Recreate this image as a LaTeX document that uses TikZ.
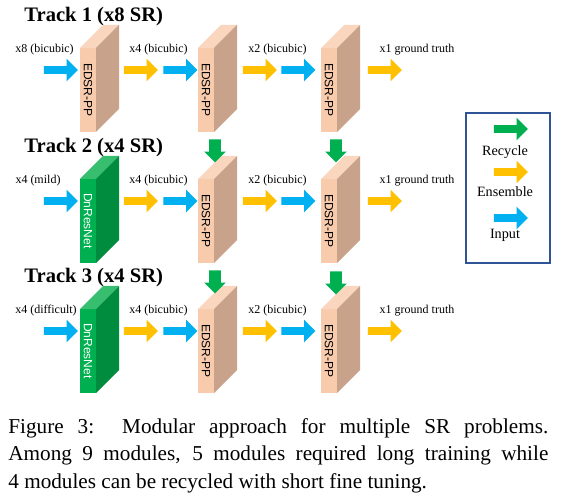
\documentclass[tikz,border=0pt]{standalone}
\usepackage{fontspec}
\setmainfont{Liberation Serif}
\setsansfont{Liberation Sans}
\usetikzlibrary{shapes.arrows,positioning}

\definecolor{edsrfront}{RGB}{248,203,173}
\definecolor{edsrtop}{RGB}{250,214,190}
\definecolor{edsrside}{RGB}{200,162,138}
\definecolor{dnfront}{RGB}{0,176,80}
\definecolor{dntop}{RGB}{55,190,110}
\definecolor{dnside}{RGB}{0,140,62}
\definecolor{inblue}{RGB}{0,176,240}
\definecolor{ensyellow}{RGB}{255,192,0}
\definecolor{recgreen}{RGB}{0,176,80}
\definecolor{legendblue}{RGB}{47,85,151}

% top and side faces of a slab, from the front face node
\newcommand{\slabsides}[3]{%
  \fill[#2] (#1.north west) -- ++(23,-23) -- ++(16,0) -- (#1.north east) -- cycle;
  \fill[#3] (#1.north east) -- ++(23,-23) -- ++(0,84) -- (#1.south east) -- cycle;}

\tikzset{
  fat/.style={single arrow, single arrow head extend=3.75pt, inner xsep=0pt,
              inner ysep=1.75pt, minimum height=17pt, outer sep=0pt},
  inp/.style={fat, fill=inblue},
  ens/.style={fat, fill=ensyellow},
  legrec/.style={fat, fill=recgreen},
  rec/.style={single arrow, fill=recgreen, single arrow head extend=2.5pt,
              inner xsep=0pt, inner ysep=2.75pt, minimum height=11.5pt, rotate=-90},
  edsr/.style={fill=edsrfront, minimum width=8pt, minimum height=42pt, inner sep=0pt,
               outer sep=0pt, font=\sffamily\fontsize{6}{6}\selectfont},
  dnres/.style={edsr, fill=dnfront, text=white},
  lbl/.style={anchor=base, inner sep=0pt, font=\fontsize{6}{6}\selectfont},
  track/.style={anchor=base west, inner sep=0pt, font=\bfseries\fontsize{10.3}{12}\selectfont},
  legtxt/.style={anchor=base, inner sep=0pt, font=\fontsize{7.1}{8}\selectfont},
}

\begin{document}
\begin{tikzpicture}[x=0.5pt, y=-0.5pt]
          \useasboundingbox (0,0) rectangle (562,502);

          % track 1
          \node[track] (t1) at (24,22)  {Track 1 (x8 SR)};
          \node[edsr] (e11) at (88,90)  {\rotatebox{-90}{EDSR-PP}};
          \node[edsr] (e12) at (206,90) {\rotatebox{-90}{EDSR-PP}};
          \node[edsr] (e13) at (329,90) {\rotatebox{-90}{EDSR-PP}};
          \slabsides{e11}{edsrtop}{edsrside}
          \slabsides{e12}{edsrtop}{edsrside}
          \slabsides{e13}{edsrtop}{edsrside}
          \node[inp] (i11) at (59,70)    {};
          \node[ens] (y11) at (139,70)   {};
          \node[inp] (i12) at (178.5,70) {};
          \node[ens] (y12) at (258,70)   {};
          \node[inp] (i13) at (296.5,70) {};
          \node[ens] (y13) at (383,70)   {};
          \node[lbl] (l11) at (44.5,53) {x8 (bicubic)};
          \node[lbl] (l12) at (158.5,53) {x4 (bicubic)};
          \node[lbl] (l13) at (277.5,53) {x2 (bicubic)};
          \node[lbl] (l14) at (417,53)  {x1 ground truth};

          % track 2
          \node[track] (t2) at (24,153)  {Track 2 (x4 SR)};
          \node[dnres] (d21) at (88,221) {\rotatebox{-90}{DnResNet}};
          \node[edsr]  (e22) at (206,221) {\rotatebox{-90}{EDSR-PP}};
          \node[edsr]  (e23) at (329,221) {\rotatebox{-90}{EDSR-PP}};
          \slabsides{d21}{dntop}{dnside}
          \slabsides{e22}{edsrtop}{edsrside}
          \slabsides{e23}{edsrtop}{edsrside}
          \node[inp] (i21) at (59,201)    {};
          \node[ens] (y21) at (139,201)   {};
          \node[inp] (i22) at (178.5,201) {};
          \node[ens] (y22) at (258,201)   {};
          \node[inp] (i23) at (296.5,201) {};
          \node[ens] (y23) at (383,201)   {};
          \node[lbl] (l21) at (38,184)    {x4 (mild)};
          \node[lbl] (l22) at (158.5,184) {x4 (bicubic)};
          \node[lbl] (l23) at (277.5,184) {x2 (bicubic)};
          \node[lbl] (l24) at (417,184)   {x1 ground truth};

          % track 3
          \node[track] (t3) at (24,283)  {Track 3 (x4 SR)};
          \node[dnres] (d31) at (88,351) {\rotatebox{-90}{DnResNet}};
          \node[edsr]  (e32) at (206,351) {\rotatebox{-90}{EDSR-PP}};
          \node[edsr]  (e33) at (329,351) {\rotatebox{-90}{EDSR-PP}};
          \slabsides{d31}{dntop}{dnside}
          \slabsides{e32}{edsrtop}{edsrside}
          \slabsides{e33}{edsrtop}{edsrside}
          \node[inp] (i31) at (59,331)    {};
          \node[ens] (y31) at (139,331)   {};
          \node[inp] (i32) at (178.5,331) {};
          \node[ens] (y32) at (258,331)   {};
          \node[inp] (i33) at (296.5,331) {};
          \node[ens] (y33) at (383,331)   {};
          \node[lbl] (l31) at (46,314)    {x4 (difficult)};
          \node[lbl] (l32) at (158.5,314) {x4 (bicubic)};
          \node[lbl] (l33) at (277.5,314) {x2 (bicubic)};
          \node[lbl] (l34) at (417,314)   {x1 ground truth};

          % recycled modules
          \node[rec] (r12) at (215,148) {};
          \node[rec] (r13) at (336,148) {};
          \node[rec] (r22) at (215,279) {};
          \node[rec] (r23) at (336,280) {};

          % legend
          \node[draw=legendblue, line width=0.75pt, minimum width=42pt, minimum height=75pt,
                inner sep=0pt] (legend) at (508,188) {};
          \node[legrec] (lr) at (509,129) {};
          \node[legtxt] (lrt) at (505,156) {Recycle};
          \node[ens] (le) at (509,172) {};
          \node[legtxt] (let) at (505,197) {Ensemble};
          \node[inp] (li) at (509,218) {};
          \node[legtxt] (lit) at (505,239) {Input};

          % caption
          \node[anchor=base west, inner sep=0pt] (caption) at (8,433)
            {\parbox[t]{270pt}{\fontsize{10.6}{13.75}\selectfont
             Figure 3:\ \ Modular approach for multiple SR problems.\linebreak
             Among 9 modules, 5 modules required long training while\linebreak
             4 modules can be recycled with short fine tuning.}};
\end{tikzpicture}
\end{document}
